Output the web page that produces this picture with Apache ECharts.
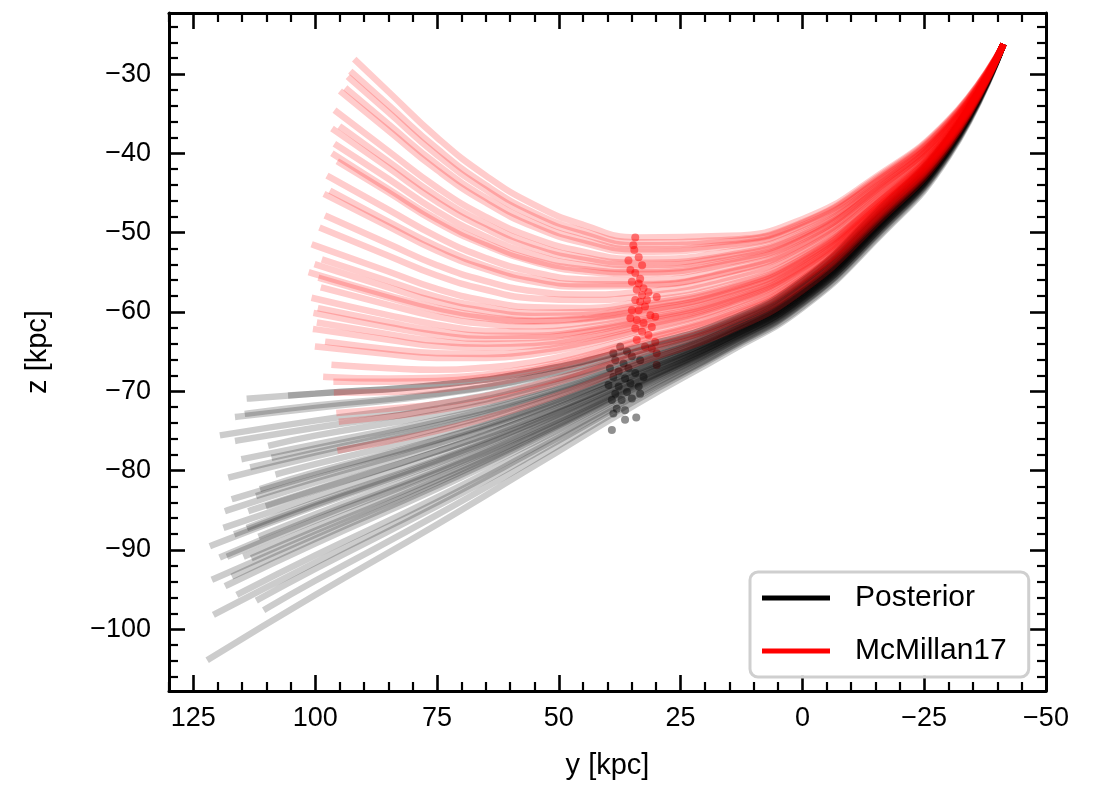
<!DOCTYPE html>
<html>
<head>
<meta charset="utf-8">
<script src="https://cdn.jsdelivr.net/npm/echarts@6/dist/echarts.min.js"></script>
<style>
html,body{margin:0;padding:0;background:#fff;}
#chart{width:1104px;height:786px;}
</style>
</head>
<body>
<div id="chart"></div>
<script>
// ---------- data ----------
const startPoint = [-41, -26.6];

// Posterior (black) trajectories: z at these y values, then each curve's own end point
const blackX = [-30, -15, 0, 15, 34, 55, 75, 100];
const blackZ = [
  [-38.0, -47.5, -56.0, -61.0, -64.5, -67.5, -69.2, -70.3],
  [-38.0, -47.5, -56.0, -61.0, -64.5, -67.5, -69.2, -70.3],
  [-38.2, -47.7, -56.2, -61.3, -65.0, -68.3, -70.4, -72.1],
  [-38.1, -47.7, -56.2, -61.2, -64.9, -68.2, -70.3, -71.8],
  [-38.3, -48.0, -56.5, -61.5, -65.5, -69.1, -71.6, -73.7],
  [-38.4, -48.1, -56.6, -61.7, -65.7, -69.5, -72.2, -74.6],
  [-38.5, -48.2, -56.7, -61.8, -66.0, -70.0, -72.9, -75.6],
  [-38.6, -48.4, -56.9, -62.0, -66.3, -70.5, -73.6, -76.7],
  [-38.6, -48.4, -56.9, -62.1, -66.4, -70.7, -73.9, -77.2],
  [-38.7, -48.5, -57.0, -62.2, -66.6, -71.0, -74.3, -77.7],
  [-38.7, -48.6, -57.1, -62.2, -66.7, -71.2, -74.7, -78.2],
  [-38.8, -48.7, -57.2, -62.4, -67.0, -71.7, -75.4, -79.2],
  [-38.9, -48.9, -57.4, -62.6, -67.3, -72.1, -76.1, -80.2],
  [-39.0, -48.9, -57.4, -62.6, -67.3, -72.3, -76.2, -80.5],
  [-39.0, -49.0, -57.5, -62.7, -67.5, -72.5, -76.6, -81.0],
  [-39.1, -49.0, -57.5, -62.8, -67.6, -72.7, -76.9, -81.5],
  [-39.1, -49.2, -57.7, -62.9, -67.9, -73.2, -77.6, -82.4],
  [-39.2, -49.2, -57.7, -62.9, -67.9, -73.2, -77.6, -82.5],
  [-39.2, -49.3, -57.8, -63.0, -68.1, -73.6, -78.2, -83.3],
  [-39.3, -49.4, -57.9, -63.2, -68.3, -73.9, -78.7, -84.0],
  [-39.3, -49.4, -57.9, -63.2, -68.4, -74.0, -78.9, -84.3],
  [-39.3, -49.5, -58.0, -63.2, -68.5, -74.2, -79.1, -84.5],
  [-39.4, -49.6, -58.1, -63.4, -68.8, -74.6, -79.8, -85.5],
  [-39.5, -49.7, -58.2, -63.5, -68.9, -74.9, -80.1, -86.0],
  [-39.5, -49.7, -58.2, -63.5, -69.0, -75.0, -80.3, -86.3],
  [-39.6, -49.8, -58.3, -63.6, -69.2, -75.4, -80.8, -87.1],
  [-39.6, -49.9, -58.4, -63.7, -69.3, -75.6, -81.2, -87.6],
  [-39.7, -50.0, -58.5, -63.8, -69.5, -75.8, -81.5, -88.1],
  [-39.7, -50.0, -58.5, -63.9, -69.6, -76.1, -81.9, -88.6],
  [-39.8, -50.1, -58.6, -64.0, -69.8, -76.4, -82.3, -89.2],
  [-39.9, -50.3, -58.8, -64.2, -70.2, -77.1, -83.4, -90.7],
  [-40.0, -50.4, -58.9, -64.4, -70.5, -77.5, -84.0, -91.6],
  [-40.1, -50.5, -59.0, -64.5, -70.7, -77.9, -84.5, -92.4],
  [-40.2, -50.8, -59.3, -64.7, -71.1, -78.6, -85.6, -93.9],
  [-40.4, -51.0, -59.5, -65.0, -71.6, -79.4, -86.8, -95.7]
];
const blackEndX = [113.4, 104.9, 115.8, 113.8, 118.9, 115.8, 109.0, 114.5, 108.3, 112.7, 117.2, 107.5,
  110.7, 116.5, 111.5, 117.9, 113.1, 109.5, 118.2, 113.4, 116.0, 121.0, 111.0, 119.0, 117.5, 114.1,
  112.5, 120.6, 116.5, 117.9, 115.5, 120.3, 111.5, 110.0, 121.6];
const blackEndZ = [-70.9, -70.5, -73.2, -72.8, -75.5, -76.2, -76.8, -78.5, -78.3, -79.5, -80.8, -80.4,
  -82.2, -83.5, -83.1, -85.0, -85.0, -84.4, -87.1, -87.1, -87.9, -89.4, -88.2, -90.8, -90.7, -90.7,
  -90.9, -93.6, -93.2, -94.4, -95.5, -98.0, -96.2, -97.4, -103.7];

// McMillan17 (red) trajectories
const redX = [-30, -15, 0, 15, 34, 45, 55, 65, 75, 85];
const redZ = [
  [-35.8, -43.0, -48.3, -50.4, -50.6, -49.0, -46.5, -42.8, -38.0, -32.2],
  [-35.9, -43.2, -48.7, -50.9, -51.2, -49.8, -47.5, -44.0, -39.4, -33.9],
  [-36.0, -43.4, -48.8, -51.1, -51.6, -50.2, -48.0, -44.6, -40.2, -34.8],
  [-36.1, -43.6, -49.1, -51.5, -52.1, -50.9, -48.8, -45.6, -41.4, -36.3],
  [-36.2, -43.7, -49.3, -51.7, -52.4, -51.3, -49.3, -46.2, -42.1, -37.1],
  [-36.4, -44.0, -49.8, -52.4, -53.3, -52.4, -50.7, -48.0, -44.3, -39.7],
  [-36.5, -44.2, -50.1, -52.8, -53.8, -53.1, -51.5, -48.9, -45.4, -41.0],
  [-36.5, -44.3, -50.3, -53.0, -54.1, -53.4, -52.0, -49.5, -46.1, -41.8],
  [-36.7, -44.5, -50.6, -53.4, -54.6, -54.1, -52.8, -50.5, -47.3, -43.2],
  [-36.7, -44.7, -50.8, -53.7, -55.0, -54.6, -53.5, -51.3, -48.3, -44.5],
  [-36.8, -44.7, -50.9, -53.9, -55.2, -54.9, -53.7, -51.6, -48.7, -44.9],
  [-36.9, -45.0, -51.4, -54.5, -56.0, -55.9, -55.0, -53.2, -50.5, -47.1],
  [-37.1, -45.2, -51.6, -54.9, -56.5, -56.5, -55.8, -54.2, -51.7, -48.6],
  [-37.1, -45.3, -51.8, -55.0, -56.7, -56.8, -56.2, -54.6, -52.3, -49.2],
  [-37.3, -45.6, -52.2, -55.6, -57.5, -57.8, -57.4, -56.1, -54.1, -51.4],
  [-37.4, -45.8, -52.5, -56.0, -58.1, -58.5, -58.3, -57.2, -55.4, -52.9],
  [-37.6, -46.1, -52.9, -56.6, -58.8, -59.5, -59.4, -58.6, -57.1, -54.9],
  [-37.6, -46.3, -53.2, -56.9, -59.2, -60.0, -60.1, -59.4, -58.1, -56.1],
  [-37.7, -46.4, -53.3, -57.1, -59.5, -60.4, -60.5, -59.9, -58.7, -56.9],
  [-37.8, -46.5, -53.5, -57.4, -59.9, -60.8, -61.1, -60.6, -59.5, -57.9],
  [-37.8, -46.5, -53.6, -57.5, -60.0, -60.9, -61.2, -60.8, -59.8, -58.2],
  [-37.9, -46.7, -53.8, -57.7, -60.3, -61.4, -61.8, -61.5, -60.6, -59.1],
  [-38.0, -46.8, -54.1, -58.1, -60.8, -62.0, -62.5, -62.4, -61.6, -60.4],
  [-38.0, -47.0, -54.2, -58.3, -61.1, -62.4, -63.0, -63.0, -62.4, -61.3],
  [-38.1, -47.0, -54.4, -58.5, -61.3, -62.6, -63.3, -63.4, -62.9, -61.9],
  [-38.2, -47.2, -54.5, -58.7, -61.6, -63.1, -63.9, -64.0, -63.7, -62.8],
  [-38.2, -47.3, -54.7, -58.9, -61.9, -63.4, -64.3, -64.5, -64.3, -63.5],
  [-38.3, -47.4, -54.9, -59.2, -62.3, -63.9, -64.9, -65.3, -65.2, -64.7],
  [-38.4, -47.5, -55.1, -59.4, -62.5, -64.2, -65.3, -65.8, -65.8, -65.3],
  [-38.5, -47.7, -55.4, -59.9, -63.2, -65.0, -66.3, -67.0, -67.3, -67.1],
  [-38.6, -47.9, -55.7, -60.2, -63.6, -65.6, -67.0, -67.9, -68.3, -68.4],
  [-38.6, -48.0, -55.8, -60.4, -63.8, -65.9, -67.3, -68.2, -68.7, -68.8],
  [-38.7, -48.2, -56.0, -60.7, -64.3, -66.4, -68.0, -69.1, -69.8, -70.1],
  [-38.9, -48.4, -56.5, -61.3, -65.0, -67.4, -69.2, -70.6, -71.6, -72.2],
  [-39.0, -48.6, -56.7, -61.6, -65.4, -67.8, -69.8, -71.3, -72.4, -73.2],
  [-39.2, -49.0, -57.3, -62.4, -66.5, -69.3, -71.5, -73.4, -75.0, -76.3]
];
const redEndX = [91.5, 92.3, 92.8, 93.3, 94.4, 95.5, 94.5, 96.0, 95.5, 96.0, 94.9, 97.0, 96.4, 97.6,
  97.4, 98.5, 100.1, 98.0, 99.5, 100.7, 98.7, 98.2, 100.1, 98.8, 99.7, 99.0, 99.8, 97.3, 99.4, 96.0,
  97.7, 95.6, 95.5, 95.0, 94.5, 94.8];
const redEndZ = [-28.4, -29.9, -30.6, -32.0, -32.4, -34.8, -36.8, -37.1, -39.0, -40.2, -41.2, -43.0,
  -44.9, -45.3, -48.0, -49.5, -51.6, -53.5, -54.1, -55.1, -55.8, -57.0, -58.3, -59.6, -60.2, -61.4,
  -62.2, -63.8, -64.4, -66.7, -68.2, -68.8, -70.2, -72.7, -73.8, -77.4];

// present-day positions (dots)
const redDotY = [34.3, 34.7, 34.5, 35.7, 33.6, 32.9, 35.3, 34.3, 33.3, 35.0, 33.6, 32.6, 34.0, 32.9,
  31.6, 29.9, 34.3, 33.3, 31.9, 35.0, 33.6, 32.3, 31.2, 30.2, 35.3, 34.0, 32.6, 30.9, 34.3, 32.9,
  31.6, 30.2, 34.0, 32.3, 30.9, 29.9, 29.9];
const redDotZ = [-50.6, -51.6, -52.2, -53.5, -53.1, -54.1, -54.7, -55.1, -55.8, -56.2, -56.4, -57.0,
  -57.2, -57.9, -57.5, -58.1, -58.5, -58.7, -58.5, -59.8, -59.8, -59.3, -60.4, -60.6, -60.8, -61.0,
  -61.4, -61.9, -62.1, -62.5, -62.9, -63.8, -63.5, -64.4, -64.6, -65.2, -66.7];
const blackDotY = [37.4, 38.8, 36.0, 35.0, 38.4, 36.7, 33.3, 39.5, 37.7, 35.7, 34.3, 38.8, 36.4, 32.6,
  39.8, 37.7, 35.3, 33.6, 38.4, 36.0, 33.3, 39.1, 37.1, 35.0, 38.1, 36.4, 38.8, 36.4, 34.1, 39.1];
const blackDotZ = [-64.4, -65.2, -65.0, -65.6, -66.1, -66.5, -66.1, -67.1, -67.5, -67.1, -67.7, -68.2,
  -68.4, -68.2, -69.2, -69.4, -69.0, -69.4, -70.3, -70.1, -70.3, -71.1, -71.1, -70.9, -72.2, -72.4,
  -72.8, -73.6, -73.3, -74.9];

const xMajor = [125, 100, 75, 50, 25, 0, -25, -50];
const xMinor = [130, 120, 115, 110, 105, 95, 90, 85, 80, 70, 65, 60, 55, 45, 40, 35, 30, 20, 15, 10, 5,
  -5, -10, -15, -20, -30, -35, -40, -45];
const yMajor = [-100, -90, -80, -70, -60, -50, -40, -30];
const yMinor = [-106, -104, -102, -98, -96, -94, -92, -88, -86, -84, -82, -78, -76, -74, -72, -68, -66,
  -64, -62, -58, -56, -54, -52, -48, -46, -44, -42, -38, -36, -34, -32, -28, -26, -24];

// ---------- chart ----------
const FONT = 'Liberation Sans';
const X_MIN = -50, X_MAX = 130, Y_MIN = -107.8, Y_MAX = -22.3;
const fmt = v => String(v).replace('-', '\u2212');

function curvePoints(xs, zs, ex, ez) {
  const pts = [startPoint.slice()];
  for (let i = 0; i < xs.length; i++) {
    if (xs[i] < ex) pts.push([xs[i], zs[i]]);
  }
  pts.push([ex, ez]);
  return pts;
}

const series = [];
blackZ.forEach((zs, i) => {
  series.push({
    name: 'Posterior', type: 'line', silent: true, animation: false,
    showSymbol: false, symbol: 'none', smooth: 0.5,
    data: curvePoints(blackX, zs, blackEndX[i], blackEndZ[i]),
    lineStyle: { color: 'rgba(0,0,0,0.2)', width: 6.5, cap: 'square' },
    itemStyle: { color: '#000' }, emphasis: { disabled: true }
  });
});
redZ.forEach((zs, i) => {
  series.push({
    name: 'McMillan17', type: 'line', silent: true, animation: false,
    showSymbol: false, symbol: 'none', smooth: 0.5,
    data: curvePoints(redX, zs, redEndX[i], redEndZ[i]),
    lineStyle: { color: 'rgba(255,0,0,0.2)', width: 6.5, cap: 'square' },
    itemStyle: { color: '#f00' }, emphasis: { disabled: true }
  });
});
series.push({
  name: 'Posterior now', type: 'scatter', silent: true, animation: false,
  symbolSize: 8, data: blackDotY.map((y, i) => [y, blackDotZ[i]]),
  itemStyle: { color: 'rgba(0,0,0,0.55)' }
});
series.push({
  name: 'McMillan17 now', type: 'scatter', silent: true, animation: false,
  symbolSize: 8, data: redDotY.map((y, i) => [y, redDotZ[i]]),
  itemStyle: { color: 'rgba(255,0,0,0.6)' }
});

function xAx(pos, ticks, len, major, labels) {
  return {
    type: 'value', position: pos, min: X_MIN, max: X_MAX, inverse: true,
    axisLine: { show: major, onZero: false, lineStyle: { color: '#000', width: 3 } },
    axisTick: { show: true, inside: true, length: len, customValues: ticks,
      lineStyle: { color: '#000', width: major ? 2.6 : 2.2 } },
    axisLabel: labels ? { show: true, customValues: ticks, formatter: fmt, fontFamily: FONT,
      fontSize: 27, color: '#000', margin: 14 } : { show: false },
    splitLine: { show: false }
  };
}
function yAx(pos, ticks, len, major, labels) {
  return {
    type: 'value', position: pos, min: Y_MIN, max: Y_MAX,
    axisLine: { show: major, onZero: false, lineStyle: { color: '#000', width: 3 } },
    axisTick: { show: true, inside: true, length: len, customValues: ticks,
      lineStyle: { color: '#000', width: major ? 2.6 : 2.2 } },
    axisLabel: labels ? { show: true, customValues: ticks, formatter: fmt, fontFamily: FONT,
      fontSize: 27, color: '#000', margin: 18 } : { show: false },
    splitLine: { show: false }
  };
}

const xAxes = [
  xAx('bottom', xMajor, 16, true, true),
  xAx('bottom', xMinor, 9, false, false),
  xAx('top', xMajor, 16, true, false),
  xAx('top', xMinor, 9, false, false)
];
Object.assign(xAxes[0], { name: 'y [kpc]', nameLocation: 'middle', nameGap: 60,
  nameTextStyle: { fontFamily: FONT, fontSize: 29, color: '#000' } });
const yAxes = [
  yAx('left', yMajor, 16, true, true),
  yAx('left', yMinor, 9, false, false),
  yAx('right', yMajor, 16, true, false),
  yAx('right', yMinor, 9, false, false)
];
Object.assign(yAxes[0], { name: 'z [kpc]', nameLocation: 'middle', nameGap: 117, nameRotate: 90,
  nameTextStyle: { fontFamily: FONT, fontSize: 29, color: '#000' } });

series.forEach(s => { s.xAxisIndex = 0; s.yAxisIndex = 0; });

const chart = echarts.init(document.getElementById('chart'), null, { renderer: 'canvas' });
chart.setOption({
  backgroundColor: '#fff',
  animation: false,
  grid: { left: 169, top: 13, width: 877, height: 678, outerBoundsMode: 'none' },
  xAxis: xAxes,
  yAxis: yAxes,
  legend: {
    orient: 'vertical', left: 750, top: 572,
    itemWidth: 68, itemHeight: 5, itemGap: 23,
    padding: [11, 22, 11, 12],
    backgroundColor: 'rgba(255,255,255,0.85)',
    borderColor: '#cfcfcf', borderWidth: 3, borderRadius: 8,
    textStyle: { fontFamily: FONT, fontSize: 30, color: '#000', padding: [0, 0, 0, 20] },
    selectedMode: false,
    data: [
      { name: 'Posterior', icon: 'rect', itemStyle: { color: '#000', opacity: 1 } },
      { name: 'McMillan17', icon: 'rect', itemStyle: { color: '#ff0000', opacity: 1 } }
    ]
  },
  series: series
});
</script>
</body>
</html>
